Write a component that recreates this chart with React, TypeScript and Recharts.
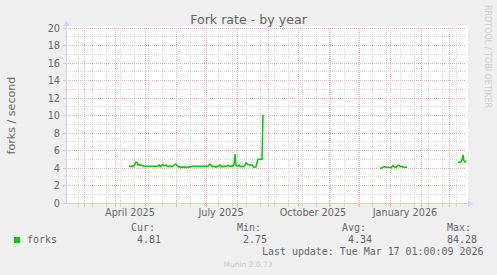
import React from 'react';
import { LineChart, Line, XAxis, YAxis, ReferenceLine } from 'recharts';

// day index 1..401 = Feb 11 2025 .. Mar 17 2026 (one day per pixel, like munin's year graph)
const MONTH_STARTS = [19, 50, 80, 111, 141, 172, 203, 233, 264, 294, 325, 356, 384];
const LABEL_DAYS = [65, 156, 248, 340];
const LABELS = ['April 2025', 'July 2025', 'October 2025', 'January 2026'];
const Y_TICKS = [0, 2, 4, 6, 8, 10, 12, 14, 16, 18, 20];

// forks / second, daily averages
const springStart = 64;
const forksSpring = [
  4.2, 4.2, 4.2, 4.25, 4.2, 4.3, 4.45,
  4.7, 4.6, 4.35, 4.4, 4.3, 4.35, 4.3,
  4.25, 4.2, 4.2, 4.2, 4.2, 4.2, 4.2, 4.2, 4.2, 4.2, 4.2, 4.2, 4.2, 4.2, 4.2,
  4.25, 4.35, 4.2, 4.2, 4.3, 4.4, 4.25, 4.3, 4.35, 4.2,
  4.2, 4.2, 4.2, 4.2, 4.2, 4.2,
  4.3, 4.4, 4.45, 4.3, 4.2,
  4.1, 4.15, 4.05, 4.15, 4.05, 4.15, 4.05, 4.1, 4.05, 4.1, 4.15, 4.1, 4.15, 4.2,
  4.2, 4.2, 4.2, 4.2, 4.2, 4.2, 4.2, 4.2, 4.2, 4.2, 4.2, 4.2, 4.2, 4.2, 4.2, 4.2,
  4.4, 4.45, 4.3, 4.2, 4.15, 4.2, 4.15, 4.1, 4.2, 4.2,
  4.25, 4.35, 4.2, 4.15, 4.2, 4.2, 4.2, 4.2, 4.2,
  4.3, 4.25, 4.2, 4.2, 4.3, 4.2, 4.4, 5.6, 4.3, 4.2,
  4.2, 4.35, 4.2, 4.2, 4.15, 4.2, 4.2, 4.3,
  4.6, 4.5, 4.4, 4.35, 4.4, 4.3, 4.35, 4.2, 4.1, 4.1, 4.15,
  4.6, 5.0, 5.0, 5.0, 5.0, 5.0, 10.1,
];

const winterStart = 315;
const forksWinter = [
  3.95, 4.0, 4.0, 4.1, 4.15, 4.15, 4.1, 4.1, 4.1, 4.1,
  4.05, 4.0, 4.15, 4.3, 4.15, 4.1, 4.05, 4.2, 4.3, 4.3,
  4.2, 4.15, 4.2, 4.1, 4.1, 4.1, 4.1, 4.1,
];

const marchStart = 393;
const forksMarch = [4.65, 4.65, 4.65, 4.7, 4.9, 5.5, 4.8, 4.7, 4.81];

const table: { day: number; forks: number | null }[] = [];
for (let d = 1; d <= 401; d++) table.push({ day: d, forks: null });
const put = (start: number, vals: number[]) =>
  vals.forEach((v, i) => { table[start + i - 1].forks = v; });
put(springStart, forksSpring);
put(winterStart, forksWinter);
put(marchStart, forksMarch);

const MINOR_DAYS: number[] = [];
for (let d = 13; d <= 400; d += 14) if (!MONTH_STARTS.includes(d)) MINOR_DAYS.push(d);
const MINOR_Y: number[] = [];
for (let v = 1; v < 20; v += 2) MINOR_Y.push(v);

const X_TICKS = [...MINOR_DAYS, ...MONTH_STARTS, ...LABEL_DAYS].sort((a, b) => a - b);
const Y_ALL = [...Y_TICKS, ...MINOR_Y].sort((a, b) => a - b);

const FONT = 'DejaVu Sans, sans-serif';
const MONO = 'DejaVu Sans Mono, monospace';
const TXT = '#666666';
const GRID = '#dadada';
const MGRID = '#f2b4b4';
const AXIS = '#CFD6F8';

const XTick = (p: any) => {
  const v = p.payload.value;
  const li = LABEL_DAYS.indexOf(v);
  if (li >= 0) {
    return (
      <text x={p.x} y={p.y + 13} textAnchor="middle" fontFamily={FONT} fontSize={9.7} fill={TXT}>
        {LABELS[li]}
      </text>
    );
  }
  const major = MONTH_STARTS.includes(v);
  return <line x1={p.x} x2={p.x} y1={p.y + 0.5} y2={p.y + 3.5} stroke={major ? MGRID : GRID} shapeRendering="crispEdges" />;
};

const YTick = (p: any) => {
  const v = p.payload.value;
  const major = v % 2 === 0;
  return (
    <g>
      <line x1={p.x - (major ? 3 : 2)} x2={p.x} y1={p.y} y2={p.y} stroke={major ? MGRID : GRID} shapeRendering="crispEdges" />
      {major && (
        <text x={p.x - 6} y={p.y + 3.5} textAnchor="end" fontFamily={FONT} fontSize={9.7} fill={TXT}>
          {v}
        </text>
      )}
    </g>
  );
};

export default function App() {
  return (
    <div style={{ position: 'absolute', left: 0, top: 0, width: 497, height: 275, background: '#f0f0f0', overflow: 'hidden' }}>
      <div style={{ position: 'absolute', left: 66, top: 26, width: 402, height: 177, background: '#ffffff' }} />
      <div style={{ position: 'absolute', left: 0, top: 0 }}>
        <LineChart width={497} height={275} data={table} margin={{ top: 28, right: 31, bottom: 42, left: 30 }}>
          <XAxis
            dataKey="day" type="number" domain={[1, 401]} ticks={X_TICKS} interval={0}
            tick={(p: any) => <XTick {...p} />} tickLine={false} axisLine={false}
            tickSize={0} tickMargin={0} height={30} allowDataOverflow
          />
          <YAxis
            type="number" domain={[0, 20]} ticks={Y_ALL} interval={0}
            tick={(p: any) => <YTick {...p} />} tickLine={false} axisLine={false}
            tickSize={0} tickMargin={0} width={36} allowDataOverflow
          />
          {MINOR_DAYS.map((d) => (
            <ReferenceLine key={'mx' + d} x={d} stroke={GRID} strokeDasharray="1 1" shapeRendering="crispEdges" />
          ))}
          {MINOR_Y.map((v) => (
            <ReferenceLine key={'my' + v} y={v} stroke={GRID} strokeDasharray="1 1" shapeRendering="crispEdges" />
          ))}
          {MONTH_STARTS.map((d) => (
            <ReferenceLine key={'Mx' + d} x={d} stroke={MGRID} strokeDasharray="1 1" shapeRendering="crispEdges" />
          ))}
          {Y_TICKS.map((v) => (
            <ReferenceLine key={'My' + v} y={v} stroke={MGRID} strokeDasharray="1 1" shapeRendering="crispEdges" />
          ))}
          <Line
            type="linear" dataKey="forks" stroke="#00cc00" strokeWidth={1.5}
            dot={false} connectNulls={false} isAnimationActive={false}
          />
        </LineChart>
      </div>
      <svg width={497} height={275} style={{ position: 'absolute', left: 0, top: 0, pointerEvents: 'none' }}>
        <line x1={66.5} x2={66.5} y1={204} y2={25} stroke={AXIS} />
        <polygon points="63.5,26 69.5,26 66.5,20.5" fill={AXIS} />
        <line x1={66} x2={468} y1={203.5} y2={203.5} stroke={AXIS} />
        <polygon points="468,200.5 468,206.5 473.5,203.5" fill={AXIS} />

        <text x={248.5} y={24} textAnchor="middle" fontFamily={FONT} fontSize={12.6} fill={TXT}>
          Fork rate - by year
        </text>
        <text transform="translate(15,115.5) rotate(-90)" textAnchor="middle" fontFamily={FONT} fontSize={11.1} fill={TXT}>
          forks / second
        </text>
        <text transform="translate(485,5) rotate(90)" fontFamily={FONT} fontSize={8} fill="#cccccc">
          RRDTOOL / TOBI OETIKER
        </text>

        <g fontFamily={MONO} fontSize={9.95} fill={TXT}>
          <text x={131} y={231}>Cur:</text>
          <text x={237} y={231}>Min:</text>
          <text x={342} y={231}>Avg:</text>
          <text x={447} y={231}>Max:</text>
          <text x={27} y={243}>forks</text>
          <text x={161} y={243} textAnchor="end">4.81</text>
          <text x={267} y={243} textAnchor="end">2.75</text>
          <text x={372} y={243} textAnchor="end">4.34</text>
          <text x={477} y={243} textAnchor="end">84.28</text>
          <text x={262} y={255}>Last update: Tue Mar 17 01:00:09 2026</text>
        </g>
        <rect x={14} y={237} width={6} height={6} fill="#00cc00" />
        <text x={248} y={267} textAnchor="middle" fontFamily={FONT} fontSize={7.5} fill="#c8c8c8">
          Munin 2.0.73
        </text>
      </svg>
    </div>
  );
}
